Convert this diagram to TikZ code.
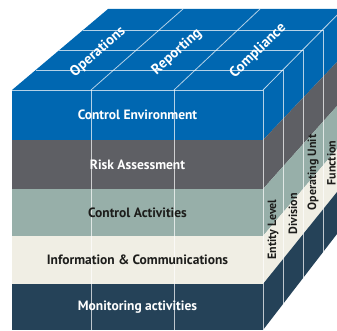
\documentclass[tikz,border=0pt]{standalone}
\usepackage{fontspec}
\setmainfont{PT Sans}
\definecolor{topblue}{RGB}{0,103,177}
\definecolor{riskgray}{RGB}{94,95,100}
\definecolor{sage}{RGB}{151,175,169}
\definecolor{cream}{RGB}{240,238,228}
\definecolor{navy}{RGB}{37,66,88}
\definecolor{ink}{RGB}{29,29,27}

\begin{document}
\begin{tikzpicture}
  [x=1pt,y=1pt,every node/.style={font=\bfseries\fontsize{13.5}{15}\selectfont},
   grid/.style={white,opacity=.7,line width=.8pt},
   objlabel/.style={text=white,font=\bfseries\fontsize{14.5}{16}\selectfont},
   unitlabel/.style={text=ink,rotate=90,anchor=west,font=\bfseries\fontsize{12}{13}\selectfont}]
  \useasboundingbox (0,0) rectangle (337,331);
  \clip (0,0) rectangle (337,331);
  % top face
  \fill[topblue] (12,241) -- (263,241) -- (337,315) -- (337,322) -- (108,322) -- cycle;
  % front and side bands
  \foreach \ya/\yb/\ra/\rb/\col in {241/191/315/269/topblue,191/142/269/225/riskgray,
      142/95/225/182/sage,95/47/182/139/cream,47/1/139/97/navy}
  {
    \fill[\col] (12,\ya) rectangle (263,\yb);
    \fill[\col] (263,\ya) -- (337,\ra) -- (337,\rb) -- (263,\yb) -- cycle;
  }
  \coordinate (ft0) at (12,241);
  \coordinate (ft1) at (91,241);
  \coordinate (ft2) at (174,241);
  \coordinate (ft3) at (263,241);
  \coordinate (bt1) at (183,322);
  \coordinate (bt2) at (260,322);
  \coordinate (bt3) at (343,322);
  \coordinate (fb1) at (91,1);
  \coordinate (fb2) at (174,1);
  \coordinate (fb3) at (263,1);
  \coordinate (l1) at (35.7,261);
  \coordinate (l2) at (59.4,281);
  \coordinate (l3) at (83.1,301);
  \coordinate (r1) at (283,261);
  \coordinate (r2) at (303,281);
  \coordinate (r3) at (323,301);
  \coordinate (s1) at (283,27);
  \coordinate (s2) at (303,53);
  \coordinate (s3) at (323,79);
  \foreach \from/\to in {ft1/fb1,ft2/fb2,ft3/fb3,ft0/ft3,ft1/bt1,ft2/bt2,ft3/bt3,
      l1/r1,l2/r2,l3/r3,r1/s1,r2/s2,r3/s3}
    \draw[grid] (\from) -- (\to);
  % objectives
  \node[objlabel,rotate=41] (ops) at (98,279) {Operations};
  \node[objlabel,rotate=42] (rep) at (177,279) {Reporting};
  \node[objlabel,rotate=44] (comp) at (258,280) {Compliance};
  % components
  \node[text=white] (env) at (137.5,216) {Control Environment};
  \node[text=white] (risk) at (137.5,166.5) {Risk Assessment};
  \node[text=ink] (act) at (137.5,118.5) {Control Activities};
  \node[text=ink] (info) at (137.5,71) {Information \& Communications};
  \node[text=white] (mon) at (137.5,24) {Monitoring activities};
  % organisational units
  \node[unitlabel] (entity) at (273,68) {Entity Level};
  \node[unitlabel] (div) at (293,93) {Division};
  \node[unitlabel] (opunit) at (313,117) {Operating Unit};
  \node[unitlabel] (func) at (331.5,142) {Function};
\end{tikzpicture}
\end{document}
